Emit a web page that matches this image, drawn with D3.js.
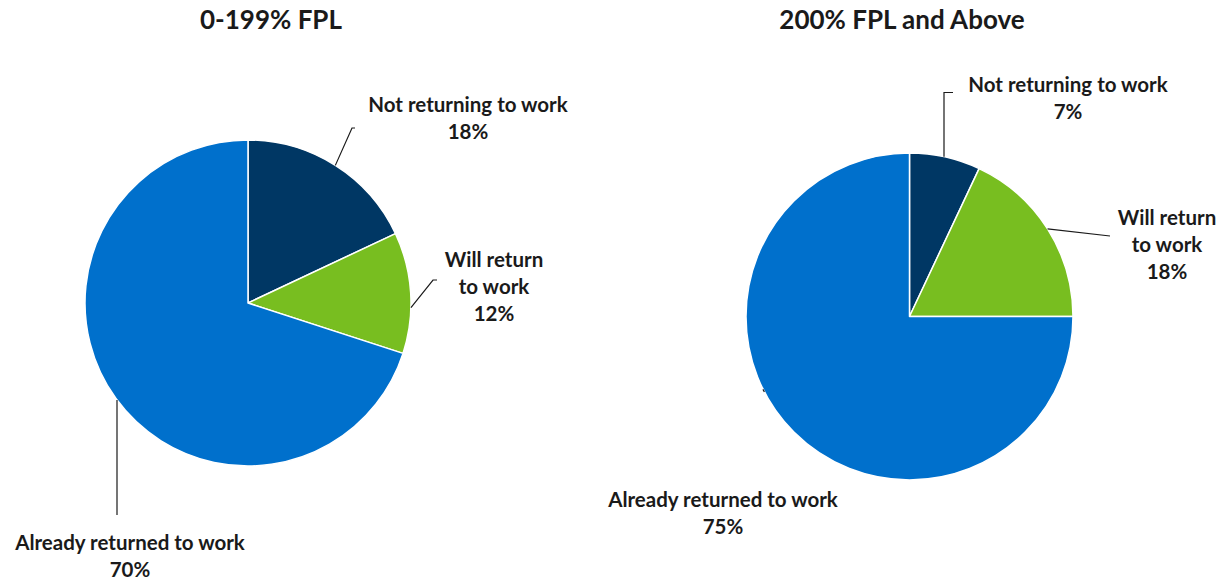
<!DOCTYPE html>
<html>
<head>
<meta charset="utf-8">
<script src="https://cdn.jsdelivr.net/npm/d3@7"></script>
<style>
  html, body { margin: 0; padding: 0; background: #fff; }
  svg text { font-family: Lato, "Open Sans", sans-serif; font-weight: 700; fill: #1a1a1a; }
</style>
</head>
<body>
<svg id="chart" width="1230" height="582"></svg>
<script>
// Work status by income group (share of respondents)
const categories = ["Not returning to work", "Will return to work", "Already returned to work"];
const groups = ["0-199% FPL", "200% FPL and Above"];
const lowIncomeValues = [18, 12, 70];
const higherIncomeValues = [7, 18, 75];
const sliceColors = ["#003764", "#78be20", "#0070cc"];

// Label lines (each category split across lines as drawn next to the slices)
const lowIncomeLabelLines = [
  ["Not returning to work"],
  ["Will return", "to work"],
  ["Already returned to work"]
];
const higherIncomeLabelLines = [
  ["Not returning to work"],
  ["Will return", "to work"],
  ["Already returned to work"]
];

const svg = d3.select("#chart");
const color = d3.scaleOrdinal().domain(categories).range(sliceColors);
const pie = d3.pie().sort(null).value(d => d.value);

// Layout of each pie and its callouts
const layouts = [
  {
    title: groups[0], values: lowIncomeValues, lines: lowIncomeLabelLines,
    cx: 248, cy: 303, r: 163, titleX: 271,
    labels: [
      { x: 468, y: 111.5, leader: [[0.5, 1.0], [352, 128], [355, 128]] },
      { x: 494, y: 266.5, leader: [[0.62, 1.0], [433, 280], [437, 280]] },
      { x: 130, y: 550, leader: "vertical", lx: 117, ly2: 515 }
    ]
  },
  {
    title: groups[1], values: higherIncomeValues, lines: higherIncomeLabelLines,
    cx: 909.5, cy: 316.5, r: 163.5, titleX: 902,
    labels: [
      { x: 1068, y: 91.5, leader: "vertical", lx: 944, ly2: 92.5, hook: 953 },
      { x: 1167, y: 225, leader: [[0.5, 1.0], [1110, 236]] },
      { x: 723, y: 507, leader: "tick" }
    ]
  }
];

const lineHeight = 27;

layouts.forEach(L => {
  const data = categories.map((c, i) => ({ category: c, value: L.values[i] }));
  const arcs = pie(data);
  const arc = d3.arc().innerRadius(0).outerRadius(L.r);
  const g = svg.append("g").attr("transform", `translate(${L.cx},${L.cy})`);

  g.selectAll("path")
    .data(arcs)
    .join("path")
    .attr("d", arc)
    .attr("fill", d => color(d.data.category))
    .attr("stroke", "#fff")
    .attr("stroke-width", 1.5)
    .attr("stroke-linejoin", "round");

  // Title
  svg.append("text")
    .attr("x", L.titleX).attr("y", 28.5)
    .attr("text-anchor", "middle")
    .style("font-size", "26px")
    .text(L.title);

  arcs.forEach((a, i) => {
    const lab = L.labels[i];
    // point on the slice rim used as leader start
    const pointOnRim = frac => {
      const ang = a.startAngle + (a.endAngle - a.startAngle) * frac;
      return [L.cx + L.r * Math.sin(ang), L.cy - L.r * Math.cos(ang)];
    };

    let pts = null;
    if (Array.isArray(lab.leader)) {
      const [frac] = lab.leader[0];
      pts = [pointOnRim(frac), ...lab.leader.slice(1)];
    } else if (lab.leader === "vertical") {
      // drop straight down from the label to where the x meets the rim
      const dx = lab.lx - L.cx;
      const dy = Math.sqrt(L.r * L.r - dx * dx);
      const yRim = lab.ly2 > L.cy ? L.cy + dy : L.cy - dy;
      pts = [[lab.lx, yRim], [lab.lx, lab.ly2]];
      if (lab.hook) pts.push([lab.hook, lab.ly2]);
    } else if (lab.leader === "tick") {
      const ang = a.startAngle + (a.endAngle - a.startAngle) * 0.565;
      const p = [L.cx + L.r * Math.sin(ang), L.cy - L.r * Math.cos(ang)];
      pts = [p, [p[0] - 1.5, p[1] - 2.5]];
    }
    if (pts) {
      svg.append("path")
        .attr("d", d3.line()(pts))
        .attr("fill", "none")
        .attr("stroke", "#1a1a1a")
        .attr("stroke-width", 1.2);
    }

    const lines = [...L.lines[i], `${a.data.value}%`];
    const t = svg.append("text")
      .attr("text-anchor", "middle")
      .style("font-size", "20.5px");
    lines.forEach((s, k) => {
      t.append("tspan")
        .attr("x", lab.x)
        .attr("y", lab.y + k * lineHeight)
        .text(s);
    });
  });
});
</script>
</body>
</html>
